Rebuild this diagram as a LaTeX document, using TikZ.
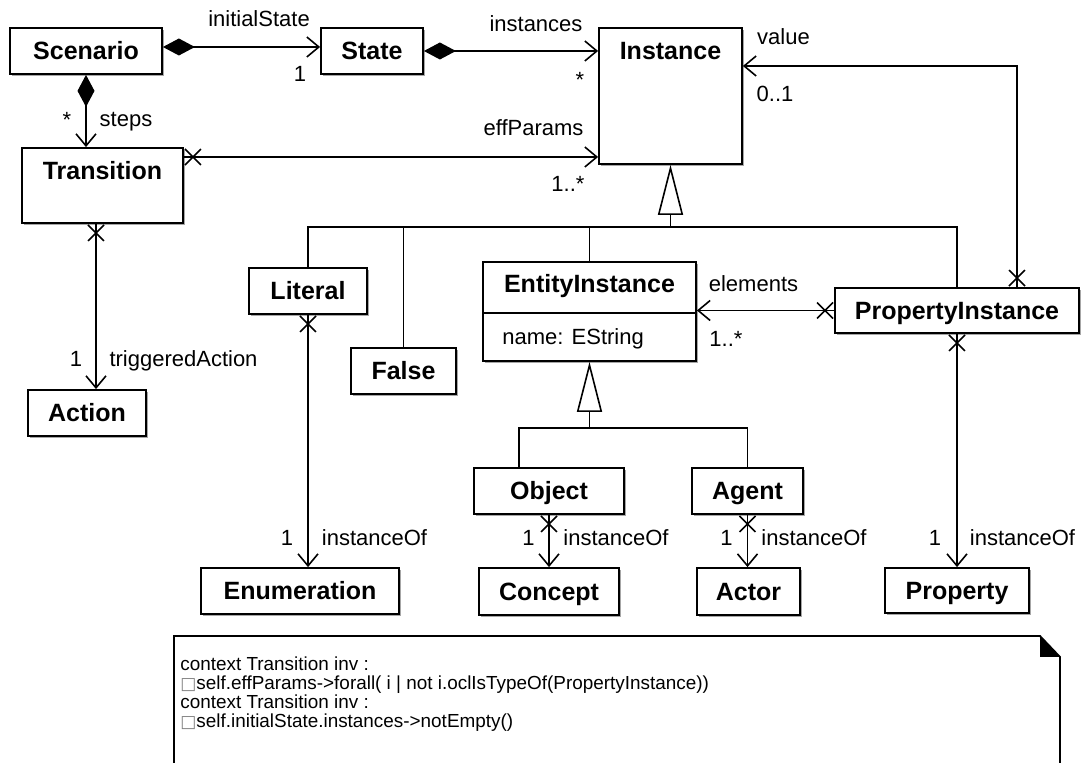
\documentclass[tikz,border=0pt]{standalone}
\usepackage{fontspec}
\setmainfont{Liberation Sans}
\newfontfamily\boxglyph{DejaVu Sans}
\usetikzlibrary{positioning,arrows.meta,shadows,decorations.markings}

\begin{document}
\begin{tikzpicture}[x=.5pt, y=-.5pt,
    cls/.style={draw, line width=.9pt, fill=white, inner sep=0pt,
      font=\fontsize{12.5pt}{14pt}\selectfont\bfseries, text height=9pt, text depth=0pt,
      drop shadow={shadow xshift=1pt, shadow yshift=-1pt, fill=black!35, opacity=1}},
    ttl/.style={inner sep=0pt, font=\fontsize{12.5pt}{14pt}\selectfont\bfseries, text height=9pt, text depth=0pt},
    lbl/.style={inner sep=0pt, font=\fontsize{11pt}{13pt}\selectfont},
    conn/.style={line width=.8pt},
    nav/.style={conn, -{Straight Barb[length=6pt, width=10pt]}},
    comp/.style={conn, {Diamond[length=16pt, width=8.5pt]}-{Straight Barb[length=6pt, width=10pt]}},
    xend/.style={postaction={decorate, decoration={markings,
      mark=at position 4.5pt with {\draw[-, line width=.8pt] (-4pt,-4pt) -- (4pt,4pt) (-4pt,4pt) -- (4pt,-4pt);}}}},
    gen/.style={conn, -{Triangle[open, length=25pt, width=12.5pt]}}]
    \useasboundingbox (0,0) rectangle (1082,763);

    \node[cls, minimum width=76pt, minimum height=23pt] (scen) at (86,51) {Scenario};
    \node[cls, minimum width=51pt, minimum height=23pt] (state) at (372,51) {State};
    \node[cls, minimum width=71.5pt, minimum height=68pt] (inst) at (670.5,96) {};
    \node[ttl, below=7pt of inst.north] (instT) {Instance};
    \node[cls, minimum width=80.5pt, minimum height=37.5pt] (trans) at (102.5,185.5) {};
    \node[ttl, below=7pt of trans.north] (transT) {Transition};
    \node[cls, minimum width=59pt, minimum height=23pt] (act) at (87,413) {Action};

    \node[cls, minimum width=59pt, minimum height=23pt] (lit) at (308,291) {Literal};
    \node[cls, minimum width=52.5pt, minimum height=23pt] (fal) at (403.5,371) {False};
    \node[cls, minimum width=106.5pt, minimum height=49.5pt] (ent) at (589.5,311.5) {};
    \node[ttl, below=6.5pt of ent.north] (entT) {EntityInstance};
    \draw[line width=.9pt] (ent.west |- 0,313) -- (ent.east |- 0,313);
    \node[lbl, anchor=base west] (entA) at (502,345) {name: EString};
    \node[cls, minimum width=122pt, minimum height=22.5pt] (pin) at (957,310.5) {PropertyInstance};

    \node[cls, minimum width=75pt, minimum height=23pt] (obj) at (549,491) {Object};
    \node[cls, minimum width=55.5pt, minimum height=23pt] (agt) at (747.5,491) {Agent};
    \node[cls, minimum width=99pt, minimum height=23pt] (enum) at (300,591) {Enumeration};
    \node[cls, minimum width=70pt, minimum height=23.5pt] (con) at (549,591.5) {Concept};
    \node[cls, minimum width=51.5pt, minimum height=23.5pt] (actr) at (748.5,591.5) {Actor};
    \node[cls, minimum width=72pt, minimum height=22.5pt] (prop) at (957,590.5) {Property};

    \draw[comp] ([yshift=2pt]scen.east) -- ([yshift=2pt]state.west);
    \node[lbl, anchor=base] (isL) at (259,27) {initialState};
    \node[lbl, anchor=base] (isM) at (300,82) {1};
    \draw[comp] (scen.south) -- (scen.south |- trans.north);
    \node[lbl, anchor=base] (stM) at (67,128) {*};
    \node[lbl, anchor=base] (stL) at (126,127) {steps};
    \draw[comp] (state.east) -- (state.east -| inst.west);
    \node[lbl, anchor=base] (inL) at (536,32) {instances};
    \node[lbl, anchor=base] (inM) at (580,88) {*};

    \coordinate (effY) at ([yshift=14.25pt]trans.east);
    \draw[nav, xend] (effY) -- (effY -| inst.west);
    \node[lbl, anchor=base] (epL) at (533.5,136) {effParams};
    \node[lbl, anchor=base] (epM) at (568,192) {1..*};
    \draw[nav, xend] ([xshift=30pt]pin.north) |- ([yshift=15pt]inst.east);
    \node[lbl, anchor=base] (vaL) at (783.5,45) {value};
    \node[lbl, anchor=base] (vaM) at (775,102) {0..1};
    \draw[nav, xend] (pin.west) -- (pin.west -| ent.east);
    \node[lbl, anchor=base] (elL) at (753.5,292) {elements};
    \node[lbl, anchor=base] (elM) at (726,347) {1..*};

    \coordinate (taX) at ([xshift=-3.25pt]trans.south);
    \draw[nav, xend] (taX) -- (taX |- act.north);
    \node[lbl, anchor=base] (taM) at (76,367) {1};
    \node[lbl, anchor=base] (taL) at (183.5,367) {triggeredAction};
    \draw[nav, xend] (lit.south) -- (lit.south |- enum.north);
    \node[lbl, anchor=base] (enM) at (287,546) {1};
    \node[lbl, anchor=base] (enL) at (374.5,546) {instanceOf};
    \draw[nav, xend] (obj.south) -- (con.north);
    \node[lbl, anchor=base] (coM) at (528.5,546) {1};
    \node[lbl, anchor=base] (coL) at (616,546) {instanceOf};
    \draw[nav, xend] (agt.south) -- (agt.south |- actr.north);
    \node[lbl, anchor=base] (acM) at (726.5,546) {1};
    \node[lbl, anchor=base] (acL) at (814,546) {instanceOf};
    \draw[nav, xend] (pin.south) -- (pin.south |- prop.north);
    \node[lbl, anchor=base] (prM) at (935,546) {1};
    \node[lbl, anchor=base] (prL) at (1022.5,546) {instanceOf};

    \coordinate (genA) at ([yshift=-31pt]inst.south);
    \draw[gen] (genA) -- (inst.south);
    \draw[conn] (lit.north) |- (pin.north |- genA) -- (pin.north);
    \draw[conn] (fal.north) -- (fal.north |- genA);
    \draw[conn] (ent.north) -- (ent.north |- genA);
    \coordinate (genB) at ([yshift=-33pt]ent.south);
    \draw[gen] (genB) -- (ent.south);
    \draw[conn] ([xshift=-15pt]obj.north) |- (agt.north |- genB) -- (agt.north);

    \draw[line width=.9pt] (174,775) -- (174,636) -- (1040,636) -- (1060,657) -- (1060,775);
    \fill (1040,636) -- (1060,657) -- (1040,657) -- cycle;
    \node[anchor=north west, inner sep=0pt, align=left, font=\fontsize{9.45pt}{9.5pt}\selectfont] (ocl) at (180,656)
      {context Transition inv :\\
       {\boxglyph\color{gray}\fontsize{8.5pt}{8.5pt}\selectfont □}self.effParams->forall( i | not i.oclIsTypeOf(PropertyInstance))\\
       context Transition inv :\\
       {\boxglyph\color{gray}\fontsize{8.5pt}{8.5pt}\selectfont □}self.initialState.instances->notEmpty()};
\end{tikzpicture}
\end{document}
